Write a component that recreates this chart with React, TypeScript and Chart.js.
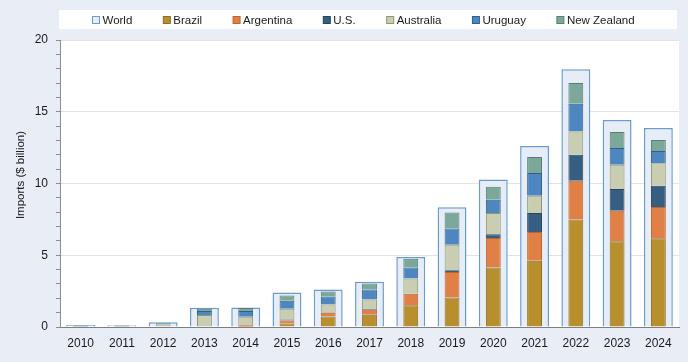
import React, { useEffect, useRef } from "react";
import { Chart, registerables } from "chart.js";

Chart.register(...registerables);

const years = ["2010", "2011", "2012", "2013", "2014", "2015", "2016", "2017", "2018", "2019", "2020", "2021", "2022", "2023", "2024"];
const world = [0.14, 0.13, 0.33, 1.34, 1.36, 2.41, 2.62, 3.15, 4.88, 8.35, 10.28, 12.62, 17.96, 14.42, 13.87];
const brazil = [0, 0, 0.05, 0.05, 0.02, 0.25, 0.74, 0.86, 1.51, 2.06, 4.14, 4.61, 7.5, 5.97, 6.18];
const argentina = [0, 0, 0, 0, 0.1, 0.21, 0.26, 0.34, 0.8, 1.78, 2.06, 2.01, 2.69, 2.13, 2.18];
const us = [0, 0, 0, 0, 0, 0.07, 0.02, 0.05, 0.03, 0.12, 0.26, 1.32, 1.82, 1.51, 1.48];
const australia = [0.02, 0.02, 0.1, 0.78, 0.6, 0.74, 0.55, 0.67, 1.04, 1.78, 1.48, 1.2, 1.62, 1.69, 1.57];
const uruguay = [0.02, 0.02, 0.05, 0.28, 0.39, 0.56, 0.56, 0.7, 0.76, 1.13, 0.93, 1.6, 1.93, 1.18, 0.86];
const newZealand = [0.06, 0.06, 0.06, 0.16, 0.21, 0.37, 0.35, 0.41, 0.61, 1.11, 0.9, 1.11, 1.45, 1.11, 0.76];

const yTickMax = 20;
const yLabelStep = 5;
const yTitle = "Imports ($ billion)";

const BG = "#e9eef6";
const FONT = "'Liberation Sans', Arial, sans-serif";

const countrySeries = [
  { label: "Brazil", data: brazil, fill: "#b78f2d", border: "#8c6f23" },
  { label: "Argentina", data: argentina, fill: "#e07f46", border: "#c2622f" },
  { label: "U.S.", data: us, fill: "#355e80", border: "#28475f" },
  { label: "Australia", data: australia, fill: "#c9ceb3", border: "#8f9670" },
  { label: "Uruguay", data: uruguay, fill: "#4e87bf", border: "#2f5f8f" },
  { label: "New Zealand", data: newZealand, fill: "#7ba898", border: "#587f71" },
];

const bgPlugin = {
  id: "bgPlugin",
  beforeDraw(chart: any) {
    const { ctx, chartArea } = chart;
    ctx.save();
    ctx.fillStyle = "#ffffff";
    ctx.fillRect(chartArea.left, chartArea.top, chartArea.right - chartArea.left, chartArea.bottom - chartArea.top);
    ctx.fillRect(59, 10, 618, 19);
    ctx.restore();
  },
  afterDraw(chart: any) {
    const { ctx } = chart;
    ctx.save();
    ctx.font = `11.5px ${FONT}`;
    ctx.textBaseline = "middle";
    ctx.textAlign = "left";
    let x = 92;
    const y = 16;
    chart.data.datasets.forEach((ds: any) => {
      ctx.fillStyle = ds.backgroundColor;
      ctx.fillRect(x + 0.5, y + 0.5, 7, 7);
      ctx.strokeStyle = ds.borderColor;
      ctx.lineWidth = 1;
      ctx.strokeRect(x + 0.5, y + 0.5, 7, 7);
      ctx.fillStyle = "#1a1a1a";
      ctx.fillText(ds.label, x + 10.5, y + 4.5);
      x += 10.5 + ctx.measureText(ds.label).width + 30.5;
    });
    // y-axis title
    ctx.translate(21, 175);
    ctx.rotate(-Math.PI / 2);
    ctx.textAlign = "center";
    ctx.fillText(yTitle, 0, 0);
    ctx.restore();
  },
};

export default function App() {
  const ref = useRef<HTMLCanvasElement | null>(null);

  useEffect(() => {
    document.body.style.margin = "0";
    document.body.style.background = BG;
    if (!ref.current) return;
    const datasets: any[] = [
      {
        label: "World",
        data: world,
        stack: "world",
        order: 1,
        grouped: false,
        backgroundColor: "#e7edf6",
        borderColor: "#6a9bd0",
        borderWidth: 1.5,
        categoryPercentage: 1,
        barPercentage: 0.7,
      },
      ...countrySeries.map((s) => ({
        label: s.label,
        data: s.data,
        stack: "countries",
        order: 0,
        grouped: false,
        backgroundColor: s.fill,
        borderColor: s.border,
        borderWidth: 1,
        categoryPercentage: 1,
        barPercentage: 0.36,
      })),
    ];
    const chart = new Chart(ref.current, {
      type: "bar",
      data: { labels: years, datasets },
      plugins: [bgPlugin],
      options: {
        animation: false,
        responsive: false,
        devicePixelRatio: 1,
        layout: { padding: { top: 40, right: 9, left: 0, bottom: 0 } },
        plugins: { legend: { display: false }, tooltip: { enabled: false } },
        scales: {
          x: {
            stacked: false,
            grid: { display: false, drawTicks: false },
            border: { display: true, color: "#7f7f7f", width: 1 },
            ticks: { color: "#1a1a1a", font: { family: FONT, size: 12 }, padding: 9, maxRotation: 0 },
            afterFit: (scale: any) => {
              scale.height = 35;
            },
          },
          y: {
            stacked: true,
            min: 0,
            max: yTickMax,
            border: { display: true, color: "#8c8c8c", width: 1 },
            grid: {
              color: (c: any) =>
                c.tick && c.tick.value % yLabelStep === 0 && c.tick.value !== 0 ? "#e3e3e3" : "rgba(0,0,0,0)",
              tickColor: "#8c8c8c",
              tickLength: 4,
              drawTicks: true,
            },
            ticks: {
              stepSize: 1,
              autoSkip: false,
              padding: 8,
              color: "#1a1a1a",
              font: { family: FONT, size: 12 },
              callback: (v: any) => (Number(v) % yLabelStep === 0 ? String(v) : ""),
            },
            afterFit: (scale: any) => {
              scale.width = 60;
            },
          },
        },
      },
    } as any);
    return () => chart.destroy();
  }, []);

  return (
    <div style={{ width: 688, height: 362, background: BG }}>
      <canvas ref={ref} width={688} height={362} style={{ display: "block" }} />
    </div>
  );
}
